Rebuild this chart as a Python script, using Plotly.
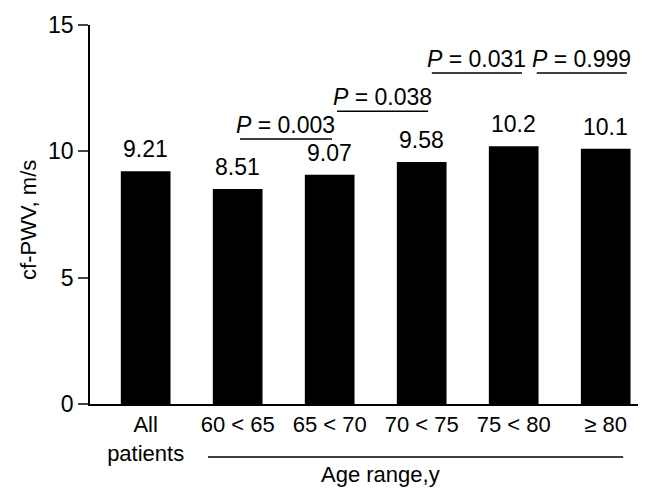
import plotly.graph_objects as go

categories = ["All<br>patients", "60 < 65", "65 < 70", "70 < 75", "75 < 80", "≥ 80"]
values = [9.21, 8.51, 9.07, 9.58, 10.2, 10.1]
value_labels = ["9.21", "8.51", "9.07", "9.58", "10.2", "10.1"]
p_labels = ["0.003", "0.038", "0.031", "0.999"]
y_ticks = [0, 5, 10, 15]

FONT = "Liberation Sans, Arial, sans-serif"
FS = 23

fig = go.Figure()
xs = list(range(len(categories)))
fig.add_trace(go.Bar(
    x=xs, y=values, width=0.54,
    marker=dict(color="black", line=dict(width=0)),
    hoverinfo="skip",
))
for xi, v, lab in zip(xs, values, value_labels):
    fig.add_annotation(x=xi, y=v, xref="x", yref="y", yanchor="bottom", yshift=7,
                       text=lab, showarrow=False,
                       font=dict(family=FONT, size=FS, color="black"))

# p-value brackets: (start, end, level)
brackets = [(1.025, 2.025, 10.49), (2.08, 3.07, 11.59), (3.11, 4.09, 13.1), (4.25, 5.23, 13.1)]
for (a, b, yl), p in zip(brackets, p_labels):
    fig.add_shape(type="line", x0=a, x1=b, y0=yl, y1=yl, xref="x", yref="y",
                  line=dict(color="black", width=1.5))
    fig.add_annotation(x=(a + b) / 2, y=yl, xref="x", yref="y", yanchor="bottom",
                       text="<i>P</i> = " + p, showarrow=False, yshift=-1,
                       font=dict(family=FONT, size=FS, color="black"))

# Age range line and label
fig.add_shape(type="line", x0=0.677, x1=5.19, y0=-0.14, y1=-0.14, xref="x", yref="paper",
              line=dict(color="black", width=1.5))
fig.add_annotation(x=2.55, y=-0.186, xref="x", yref="paper", yanchor="middle",
                   text="Age range,y", showarrow=False,
                   font=dict(family=FONT, size=22, color="black"))
# y-axis title
fig.add_annotation(x=-0.112, y=0.485, xref="paper", yref="paper",
                   xanchor="center", yanchor="middle", text="cf-PWV, m/s",
                   showarrow=False, textangle=-90,
                   font=dict(family=FONT, size=22, color="black"))

fig.update_layout(
    width=638, height=481,
    margin=dict(l=82, r=0, t=17, b=85),
    paper_bgcolor="white", plot_bgcolor="white",
    showlegend=False,
    font=dict(family=FONT, size=FS, color="black"),
    xaxis=dict(range=[-0.605, 5.438], tickmode="array", tickvals=xs, ticktext=categories,
               showline=True, linecolor="black", linewidth=1.5, ticks="",
               showgrid=False, zeroline=False, tickfont=dict(size=22)),
    yaxis=dict(range=[0, 15], tickvals=y_ticks, showline=True, linecolor="black",
               linewidth=1.5, ticks="outside", ticklen=10, tickwidth=1.5,
               showgrid=False, zeroline=False, tickfont=dict(size=FS)),
)
fig.write_html("out.html")
